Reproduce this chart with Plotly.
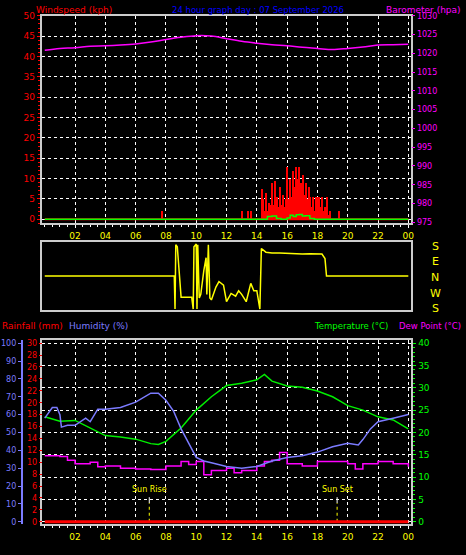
import plotly.graph_objects as go

# ---------------- data ----------------
baro_t = [0, 1, 2, 3, 4, 5, 6, 7, 8, 9, 10, 11, 12, 13, 14, 15, 16, 17, 18, 19, 20, 21, 22, 23, 24]
baro_v = [1020.8, 1021.3, 1021.5, 1021.9, 1022.0, 1022.2, 1022.5, 1023.0, 1023.7, 1024.3, 1024.7, 1024.6, 1023.9, 1023.2, 1022.7, 1022.3, 1022.0, 1021.6, 1021.3, 1021.0, 1021.3, 1021.7, 1022.2, 1022.3, 1022.4]

gust_t = [7.7, 13.0, 13.4, 13.6,
          14.3, 14.4, 14.5, 14.6, 14.7, 14.8, 14.9, 15.0, 15.1, 15.2, 15.3, 15.4, 15.5, 15.6, 15.7, 15.8, 15.9,
          16.0, 16.1, 16.2, 16.3, 16.4, 16.5, 16.6, 16.7, 16.8, 16.9, 17.0, 17.1, 17.2, 17.3, 17.4, 17.5, 17.6,
          17.7, 17.8, 17.9, 18.0, 18.1, 18.2, 18.3, 18.4, 18.5, 18.6, 18.7, 18.8, 19.4]
gust_v = [2, 2, 2, 2,
          7.5, 5, 2, 6.5, 2, 4, 3.5, 9, 3.5, 9.5, 5.5, 3, 8, 3.5, 6, 3, 5,
          13, 5, 10, 5.5, 12, 8, 13, 10, 13, 9, 11, 6, 9, 5, 8, 5.5, 3,
          5.5, 2, 5.5, 5.5, 5.5, 3, 5.5, 2, 3, 5.5, 1, 2, 2]
avg_t = [0, 14.5, 14.7, 15.0, 15.3, 15.6, 16.0, 16.2, 16.4, 16.6, 16.8, 17.0, 17.2, 17.5, 17.8, 18.5, 24]
avg_v = [0, 0, 0.7, 0.8, 0.2, 0, 0.3, 1.0, 0.7, 1.1, 1.2, 0.8, 0.9, 0.2, 0, 0, 0]

dir_t = [0, 8.55, 8.6, 8.65, 8.75, 8.85, 9.0, 9.7, 9.8, 9.85, 10.0, 10.05, 10.1, 10.2, 10.3, 10.5, 10.65, 10.7,
         10.8, 10.9, 11.0, 11.3, 11.5, 11.8, 12.0, 12.3, 12.6, 12.8, 13.0, 13.3, 13.6, 13.8, 14.0, 14.2, 14.3,
         14.6, 15.0, 15.5, 16.0, 16.5, 17.0, 17.5, 18.0, 18.3, 18.5, 18.6, 24]
dir_v = [0, 0, -180, 170, 160, 60, -115, -115, -180, 160, 175, -180, 170, -120, -100, 30, 100, -100,
         170, -120, -130, -60, -30, -50, -140, -95, -110, -80, -100, -140, -40, -80, -80, -180, 150,
         130, 125, 125, 122, 123, 120, 122, 120, 120, 95, 0, 0]

hum_t = [0, 0.3, 0.5, 0.8, 1.0, 1.1, 1.5, 2, 2.7, 3, 3.5, 4, 5, 6, 7, 7.5, 8, 8.5, 9, 10, 10.5, 11, 12, 13, 14, 15, 16, 17, 18, 19, 20, 20.7, 21, 21.5, 22, 23, 24]
hum_v = [58, 62, 64, 64, 60, 53, 54, 54, 58, 56, 63, 63, 64, 67, 72, 72, 68, 62, 52, 36, 34, 33, 31, 30, 31, 34, 36, 37, 39, 42, 44, 43, 46, 52, 56, 58, 60]

temp_t = [0, 1, 2, 3, 4, 5, 6, 7, 7.5, 8, 8.5, 9, 9.5, 10, 11, 12, 13, 14, 14.5, 15, 16, 17, 18, 19, 19.5, 20, 21, 22, 23, 24]
temp_v = [23.5, 22.5, 22.7, 21, 19.3, 19, 18.5, 17.5, 17.3, 18, 19.5, 21, 23, 25, 28, 30.5, 31, 31.8, 33, 31.5, 30.4, 30.1, 29.3, 28, 27, 26, 25, 23.5, 22.8, 20.8]

dew_t = [0, 1, 1.5, 2, 3, 3.5, 4, 5, 6, 7, 8, 9, 9.5, 10, 10.5, 11, 12, 12.5, 13, 14, 14.5, 15, 15.5, 16, 17, 18, 19, 20, 20.5, 21, 22, 23, 24]
dew_v = [14.8, 14.6, 13.8, 13, 13.3, 12.3, 12.5, 12, 11.8, 11.7, 12.5, 13.5, 12.8, 13.5, 10.5, 11.5, 12, 11, 11.5, 12.5, 13.5, 13.8, 15.5, 13, 12.5, 13.5, 13.5, 13, 11.8, 13, 13.5, 13, 12.3]

rain_t = [0, 24]
rain_v = [0, 0]

hour_ticks = [2, 4, 6, 8, 10, 12, 14, 16, 18, 20, 22, 24]
hour_labels = ["02", "04", "06", "08", "10", "12", "14", "16", "18", "20", "22", "00"]
sun_rise, sun_set = 6.9, 19.3
dir_letters = ["S", "E", "N", "W", "S"]

# ---------------- figure ----------------
F = "DejaVu Sans"
W, H = 466, 555
def px(x): return x / W
def py(y): return 1 - y / H

XL, XR = px(42), px(414)
fig = go.Figure()

fig.add_trace(go.Bar(x=gust_t, y=gust_v, width=0.07, marker=dict(color="#ff0000", line_width=0), xaxis="x", yaxis="y"))
fig.add_trace(go.Scatter(x=[0, 24], y=[0, 0], mode="lines", line=dict(color="#ff0000", width=2), xaxis="x", yaxis="y"))
fig.add_trace(go.Scatter(x=avg_t, y=avg_v, mode="lines", line=dict(color="#00ff00", width=1.5, shape="hv"), xaxis="x", yaxis="y"))
fig.add_trace(go.Scatter(x=baro_t, y=baro_v, mode="lines", line=dict(color="#ff00ff", width=1.5, shape="spline"), xaxis="x", yaxis="y2"))

fig.add_trace(go.Scatter(x=dir_t, y=dir_v, mode="lines", line=dict(color="#ffff00", width=1.5), xaxis="x2", yaxis="y3"))

fig.add_trace(go.Scatter(x=rain_t, y=rain_v, mode="lines", line=dict(color="#ff0000", width=3), xaxis="x3", yaxis="y6"))
fig.add_trace(go.Scatter(x=hum_t, y=hum_v, mode="lines", line=dict(color="#7b7bff", width=1.5), xaxis="x3", yaxis="y5"))
fig.add_trace(go.Scatter(x=temp_t, y=temp_v, mode="lines", line=dict(color="#00ee00", width=1.5), xaxis="x3", yaxis="y4"))
fig.add_trace(go.Scatter(x=dew_t, y=dew_v, mode="lines", line=dict(color="#ff00ff", width=1.5, shape="hv"), xaxis="x3", yaxis="y4"))
for t in (sun_rise, sun_set):
    fig.add_trace(go.Scatter(x=[t, t], y=[0, 4.2], mode="lines", line=dict(color="#ffff00", width=1, dash="dot"), xaxis="x3", yaxis="y4"))
    fig.add_trace(go.Scatter(x=[t, t], y=[4.2, 5.5], mode="lines", line=dict(color="white", width=1), xaxis="x3", yaxis="y4"))

grid = dict(showgrid=True, gridcolor="white", griddash="dot", gridwidth=1, zeroline=False)
xcommon = dict(range=[-0.2, 24.2], tickvals=hour_ticks, ticktext=hour_labels, tickfont=dict(family=F, size=9, color="#ffff00"),
               ticks="outside", ticklen=3, tickcolor="white", minor=dict(dtick=0.5, ticks="outside", ticklen=2, tickcolor="white"),
               showline=True, linecolor="#cccccc", linewidth=2, mirror=True, fixedrange=True)

fig.update_layout(
    width=W, height=H, paper_bgcolor="black", plot_bgcolor="black", showlegend=False, bargap=0,
    margin=dict(l=0, r=0, t=0, b=0),
    xaxis=dict(domain=[XL, XR], anchor="y", **xcommon, **grid),
    yaxis=dict(domain=[py(222), py(11)], range=[-1, 50], dtick=5, tickfont=dict(family=F, size=9, color="#ff0000"),
               ticks="outside", ticklen=3, tickcolor="#ff0000", minor=dict(dtick=1, ticks="outside", ticklen=2, tickcolor="#ff0000"),
               showline=True, linecolor="#cccccc", linewidth=2, mirror=True, **grid),
    yaxis2=dict(overlaying="y", side="right", anchor="x", range=[974.7, 1030], tickvals=list(range(975, 1031, 5)),
                tickfont=dict(family=F, size=8, color="#ff00ff"), ticks="outside", ticklen=3, tickcolor="#ff00ff",
                showgrid=False, zeroline=False),
    xaxis2=dict(domain=[XL, XR], anchor="y3", range=[-0.2, 24.2], showticklabels=False, showgrid=False, zeroline=False,
                showline=True, linecolor="#cccccc", linewidth=2, mirror=True),
    yaxis3=dict(domain=[py(310), py(241)], range=[-185, 185], showticklabels=False, showgrid=False, zeroline=False,
                showline=True, linecolor="#cccccc", linewidth=2, mirror=True),
    xaxis3=dict(domain=[XL, XR], anchor="y4", **xcommon, **grid),
    yaxis4=dict(domain=[py(528), py(341)], range=[-0.6, 40.6], dtick=5, side="right", anchor="x3",
                tickfont=dict(family=F, size=9, color="#00ff00"), ticks="outside", ticklen=3, tickcolor="#00ff00",
                minor=dict(dtick=1, ticks="outside", ticklen=2, tickcolor="#00ff00"),
                showline=True, linecolor="#cccccc", linewidth=2, mirror=True, **grid),
    yaxis5=dict(overlaying="y4", side="left", anchor="free", position=px(22), range=[-1.5, 101.5], dtick=10,
                tickfont=dict(family=F, size=8, color="#7b7bff"), ticks="outside", ticklen=3, tickcolor="#7b7bff",
                showline=True, linecolor="#7b7bff", linewidth=2, showgrid=False, zeroline=False),
    yaxis6=dict(overlaying="y4", side="left", anchor="free", position=XL, range=[-0.45, 30.45], dtick=2,
                tickfont=dict(family=F, size=8, color="#ff0000"), ticks="outside", ticklen=3, tickcolor="#ff0000",
                showgrid=False, zeroline=False),
)

def ann(x, y, text, color, xanchor="left", size=9):
    fig.add_annotation(x=x, y=y, xref="paper", yref="paper", text=text, showarrow=False, xanchor=xanchor, yanchor="middle",
                       font=dict(family=F, size=size, color=color))

ann(px(34), py(5), "Windspeed (kph)", "#ff0000")
ann(px(171), py(5), "24 hour graph day : 07 September 2026", "#0000ff", size=8.5)
ann(px(466), py(5), "Barometer (hpa)", "#ff00ff", xanchor="right")
ann(px(0), py(326), "Rainfall (mm)", "#ff0000")
ann(px(67), py(326), "Humidity (%)", "#7b7bff")
ann(px(466), py(326), "Dew Point (°C)", "#ff00ff", xanchor="right", size=8.5)
ann(px(393), py(326), "Temperature (°C)", "#00ff00", xanchor="right", size=8.5)
for i, L in enumerate(dir_letters):
    ann(px(438), py(245 + i * 16), L, "#ffff00", xanchor="center", size=11)
fig.add_annotation(x=sun_rise, y=7.2, xref="x3", yref="y4", text="Sun Rise", showarrow=False,
                   font=dict(family=F, size=8, color="#ffff00"))
fig.add_annotation(x=sun_set, y=7.2, xref="x3", yref="y4", text="Sun Set", showarrow=False,
                   font=dict(family=F, size=8, color="#ffff00"))

fig.write_html("out.html", config={"displayModeBar": False})
with open("out.html", encoding="utf-8") as f:
    html = f.read()
html = html.replace("<head>", "<head><style>html,body{margin:0;padding:0;background:black;overflow:hidden}</style>", 1)
with open("out.html", "w", encoding="utf-8") as f:
    f.write(html)
